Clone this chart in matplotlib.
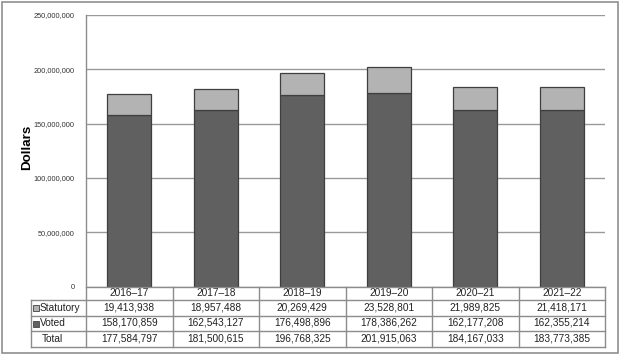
import matplotlib
matplotlib.use("Agg")
import matplotlib.pyplot as plt
from matplotlib.patches import Rectangle
import matplotlib.transforms as mtransforms

years = ["2016\u201317", "2017\u201318", "2018\u201319", "2019\u201320", "2020\u201321", "2021\u201322"]
statutory = [19413938, 18957488, 20269429, 23528801, 21989825, 21418171]
voted = [158170859, 162543127, 176498896, 178386262, 162177208, 162355214]
total = [177584797, 181500615, 196768325, 201915063, 184167033, 183773385]
yticks = [0, 50000000, 100000000, 150000000, 200000000, 250000000]

VOTED_C = "#606060"
STAT_C = "#b3b3b3"
EDGE_C = "#3f3f3f"
GRID_C = "#9a9a9a"
TBL_C = "#8c8c8c"
FONT = "Liberation Sans"

W, H = 620, 355
fig = plt.figure(figsize=(W / 100, H / 100), dpi=100)
fig.patch.set_facecolor("white")

# outer border
fig.add_artist(Rectangle((1.5 / W, 2.5 / H), (W - 4) / W, (H - 4) / H,
                         transform=fig.transFigure, fill=False,
                         edgecolor="#8f8f8f", linewidth=1.2))

left, right, top, bottom = 86, 605, 15, 286.7
ax = fig.add_axes([left / W, (H - bottom) / H, (right - left) / W, (bottom - top) / H])
x = list(range(len(years)))
ax.bar(x, voted, width=0.51, color=VOTED_C, edgecolor=EDGE_C, linewidth=0.9, zorder=3)
ax.bar(x, statutory, bottom=voted, width=0.51, color=STAT_C, edgecolor=EDGE_C,
       linewidth=0.9, zorder=3)
ax.set_xlim(-0.5, len(years) - 0.5)
ax.set_ylim(0, 250000000)
ax.set_yticks(yticks)
ax.set_yticklabels([f"{v:,}" for v in yticks], fontsize=5.3, family=FONT, color="#333333")
ax.tick_params(axis="y", length=0, pad=8)
ax.set_xticks([])
ax.yaxis.grid(True, color=GRID_C, linewidth=1.0, zorder=0)
for s in ["top", "right", "bottom", "left"]:
    ax.spines[s].set_visible(False)
ax.set_axisbelow(True)

fig.text(27 / W, 1 - 147 / H, "Dollars", rotation=90, ha="center", va="center",
         fontsize=9.6, fontweight="bold", family=FONT)

# table
axh = bottom - top
def yf(py):
    return (bottom - py) / axh

tr = mtransforms.blended_transform_factory(ax.transData, ax.transAxes)
rows_y = [286.7, 300, 315.7, 331.3, 347]
lab_left = -0.5 - 55 / 86.5
n = len(years)
kw = dict(transform=tr, clip_on=False, color=TBL_C, linewidth=1.0, zorder=5)
# horizontal lines
ax.plot([-0.5, n - 0.5], [yf(rows_y[0])] * 2, **kw)
for py in rows_y[1:]:
    ax.plot([lab_left, n - 0.5], [yf(py)] * 2, **kw)
# vertical lines
ax.plot([lab_left, lab_left], [yf(rows_y[1]), yf(rows_y[-1])], **kw)
ax.plot([-0.5, -0.5], [yf(top), yf(rows_y[-1])], transform=tr, clip_on=False,
        color="#8c8c8c", linewidth=1.0, zorder=5)
for i in range(n):
    ax.plot([i + 0.5, i + 0.5], [yf(rows_y[0]), yf(rows_y[-1])], **kw)

tkw = dict(transform=tr, ha="center", va="center", fontsize=7.3, family=FONT,
           color="#222222", clip_on=False)
row_vals = [statutory, voted, total]
for i in range(n):
    ax.text(i, yf((rows_y[0] + rows_y[1]) / 2), years[i], **tkw)
    for r, vals in enumerate(row_vals):
        ax.text(i, yf((rows_y[r + 1] + rows_y[r + 2]) / 2) + 0.002, f"{vals[i]:,}", **tkw)

labels = ["Statutory", "Voted", "Total"]
colors = [STAT_C, VOTED_C, None]
px_unit = 1 / 86.5
for r, lab in enumerate(labels):
    yc = yf((rows_y[r + 1] + rows_y[r + 2]) / 2)
    if colors[r] is not None:
        ax.plot([lab_left + 5 * px_unit], [yc], marker="s", markersize=3.8,
                markerfacecolor=colors[r], markeredgecolor="#555555", markeredgewidth=0.7,
                transform=tr, clip_on=False, zorder=6)
        xs = lab_left + 8.8 * px_unit
    else:
        xs = lab_left + 11 * px_unit
    ax.text(xs, yc, lab, transform=tr, ha="left", va="center", fontsize=7.3,
            family=FONT, color="#222222", clip_on=False)

fig.savefig("out.png", dpi=100, facecolor="white")
